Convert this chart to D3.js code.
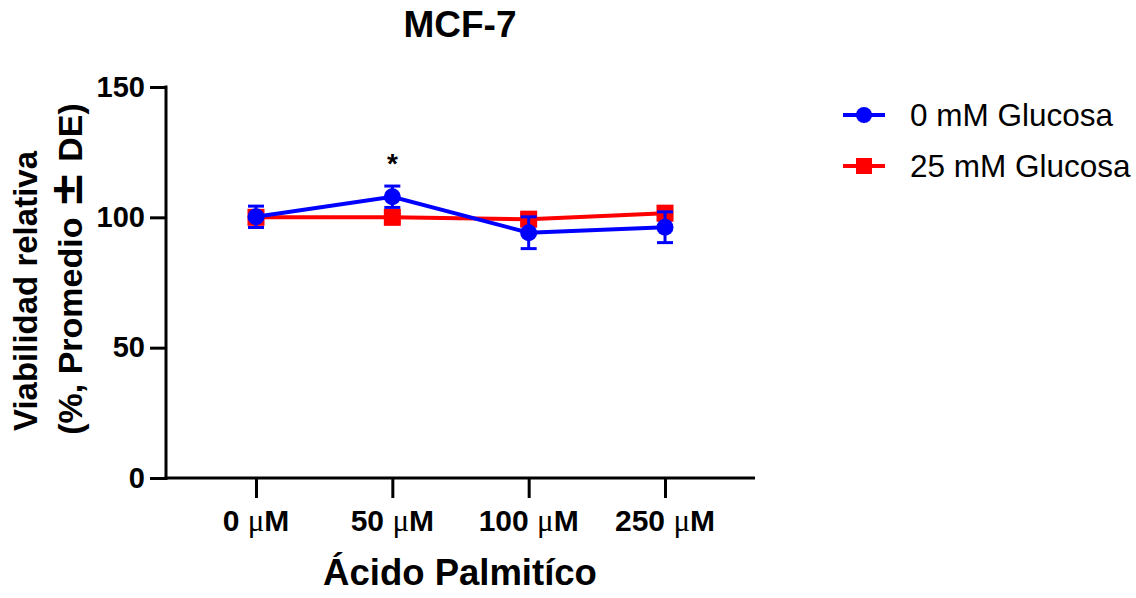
<!DOCTYPE html>
<html>
<head>
<meta charset="utf-8">
<script src="https://cdn.jsdelivr.net/npm/d3@7"></script>
<style>
  body { margin: 0; background: #fff; }
  text { font-family: Arial, "Liberation Sans", sans-serif; }
</style>
</head>
<body>
<div id="chart"></div>
<script>
var doses = ["0", "50", "100", "250"];
var blueMean = [100.2, 107.9, 94.1, 96.2];
var blueSD = [4.1, 4.1, 6.1, 5.9];
var redMean = [100.0, 100.0, 99.3, 101.6];
var redSD = [2.0, 1.5, 2.0, 2.5];
var yTicks = [0, 50, 100, 150];
var seriesNames = ["0 mM Glucosa", "25 mM Glucosa"];
var colors = ["#0000ff", "#ff0000"];

var width = 1136, height = 598;

var svg = d3.select("#chart").append("svg")
  .attr("width", width)
  .attr("height", height);

var x = d3.scalePoint().domain(doses).range([166, 755]).padding(0.66);
var y = d3.scaleLinear().domain([0, 150]).range([478, 87]);

// -- axes --
var yAxis = d3.axisLeft(y).tickValues(yTicks).tickSize(16).tickPadding(5).tickSizeOuter(0);
var gy = svg.append("g").attr("transform", "translate(166,0)").call(yAxis);
gy.select(".domain").attr("stroke-width", 3).attr("d", "M0,85.5V480");
gy.selectAll(".tick line").attr("stroke-width", 3);
gy.selectAll(".tick text")
  .attr("font-size", 29).attr("font-weight", "bold").attr("fill", "#000")
  .attr("font-family", "Arial, 'Liberation Sans', sans-serif");

var xAxis = d3.axisBottom(x).tickSize(20).tickSizeOuter(0).tickFormat("");
var gx = svg.append("g").attr("transform", "translate(0,478)").call(xAxis);
gx.select(".domain").attr("stroke-width", 3).attr("d", "M164.5,0H755");
gx.selectAll(".tick line").attr("stroke-width", 3);

// x tick labels with a symbol-ish mu
var xl = svg.append("g").selectAll("text").data(doses).enter().append("text")
  .attr("x", function (d) { return x(d); })
  .attr("y", 531)
  .attr("text-anchor", "middle")
  .attr("font-size", 30)
  .attr("font-weight", "bold");
xl.append("tspan").text(function (d) { return d + " "; });
xl.append("tspan").attr("font-family", "'Liberation Serif', serif").attr("font-weight", "normal").attr("font-size", 31).text("\u03bc");
xl.append("tspan").text("M");

// -- titles --
svg.append("text").attr("x", 460).attr("y", 37).attr("text-anchor", "middle")
  .attr("font-size", 37).attr("font-weight", "bold").text("MCF-7");

svg.append("text").attr("x", 460).attr("y", 585).attr("text-anchor", "middle")
  .attr("font-size", 36.5).attr("font-weight", "bold").text("\u00c1cido Palmit\u00edco");

svg.append("text").attr("transform", "translate(37,291) rotate(-90)").attr("text-anchor", "middle")
  .attr("font-size", 33).attr("font-weight", "bold").text("Viabilidad relativa");
var yl2 = svg.append("text").attr("transform", "translate(82,269) rotate(-90)").attr("text-anchor", "middle")
  .attr("font-size", 34).attr("font-weight", "bold");
yl2.append("tspan").text("(%, Promedio ");
yl2.append("tspan").attr("font-size", 44).attr("font-family", "'DejaVu Sans', sans-serif").text("\u00b1");
yl2.append("tspan").text(" DE)");

// -- series --
var line = d3.line()
  .x(function (d) { return x(d.dose); })
  .y(function (d) { return y(d.mean); });

var drawSeries = function (mean, sd, color, shape) {
  var data = doses.map(function (d, i) { return { dose: d, mean: mean[i], sd: sd[i] }; });
  var g = svg.append("g");

  g.append("path").datum(data)
    .attr("fill", "none").attr("stroke", color).attr("stroke-width", 4)
    .attr("d", line);

  var eb = g.selectAll(".eb").data(data).enter().append("g");
  eb.append("line")
    .attr("x1", function (d) { return x(d.dose); }).attr("x2", function (d) { return x(d.dose); })
    .attr("y1", function (d) { return y(d.mean + d.sd); }).attr("y2", function (d) { return y(d.mean - d.sd); })
    .attr("stroke", color).attr("stroke-width", 3);
  [1, -1].forEach(function (s) {
    eb.append("line")
      .attr("x1", function (d) { return x(d.dose) - 8; }).attr("x2", function (d) { return x(d.dose) + 8; })
      .attr("y1", function (d) { return y(d.mean + s * d.sd); }).attr("y2", function (d) { return y(d.mean + s * d.sd); })
      .attr("stroke", color).attr("stroke-width", 3);
  });

  if (shape == "circle") {
    g.selectAll(".pt").data(data).enter().append("circle")
      .attr("cx", function (d) { return x(d.dose); })
      .attr("cy", function (d) { return y(d.mean); })
      .attr("r", 8.5).attr("fill", color);
  } else {
    g.selectAll(".pt").data(data).enter().append("rect")
      .attr("x", function (d) { return x(d.dose) - 8.5; })
      .attr("y", function (d) { return y(d.mean) - 8.5; })
      .attr("width", 17).attr("height", 17).attr("fill", color);
  }
};

drawSeries(redMean, redSD, colors[1], "square");
drawSeries(blueMean, blueSD, colors[0], "circle");

// significance mark
svg.append("text").attr("x", x("50")).attr("y", 173).attr("text-anchor", "middle")
  .attr("font-size", 28).attr("font-weight", "bold").text("*");

// -- legend --
var legend = svg.append("g");
seriesNames.forEach(function (name, i) {
  var ly = 115 + i * 51;
  legend.append("line").attr("x1", 843).attr("x2", 885).attr("y1", ly).attr("y2", ly)
    .attr("stroke", colors[i]).attr("stroke-width", 4);
  if (i == 0) {
    legend.append("circle").attr("cx", 864).attr("cy", ly).attr("r", 8).attr("fill", colors[i]);
  } else {
    legend.append("rect").attr("x", 856).attr("y", ly - 8).attr("width", 16).attr("height", 16).attr("fill", colors[i]);
  }
  legend.append("text").attr("x", 910).attr("y", ly + 11).attr("font-size", 31.5).text(name);
});
</script>
</body>
</html>
